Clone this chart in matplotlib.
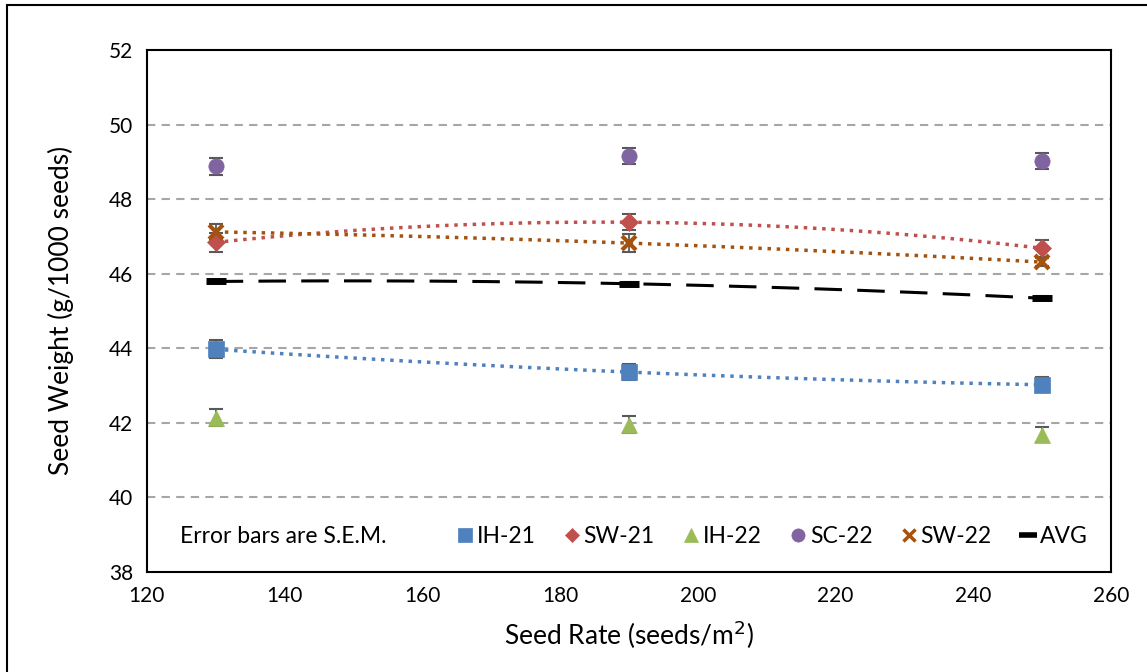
import numpy as np
import matplotlib
matplotlib.use("Agg")
import matplotlib.pyplot as plt
from matplotlib.lines import Line2D
from matplotlib.patches import Rectangle

plt.rcParams['font.family'] = ['Lato', 'DejaVu Sans']

rate = [130, 190, 250]
ih21 = [43.97, 43.36, 43.02]
sw21 = [46.84, 47.38, 46.68]
ih22 = [42.14, 41.95, 41.68]
sc22 = [48.88, 49.16, 49.02]
sw22 = [47.12, 46.82, 46.31]
avg = [45.79, 45.73, 45.34]

ih21_err = [0.24, 0.22, 0.2]
sw21_err = [0.25, 0.22, 0.22]
ih22_err = [0.22, 0.22, 0.2]
sc22_err = [0.22, 0.22, 0.22]
sw22_err = [0.22, 0.25, 0.1]
avg_err = [0.05, 0.05, 0.05]

labels = ["IH-21", "SW-21", "IH-22", "SC-22", "SW-22", "AVG"]
colors = ["#4F81BD", "#C0504D", "#9BBB59", "#8064A2", "#A5520F", "black"]
markers = ["s", "D", "^", "o", "x", "_"]
msizes = [11, 9, 11, 11, 10, 15]
series = [ih21, sw21, ih22, sc22, sw22, avg]
errs = [ih21_err, sw21_err, ih22_err, sc22_err, sw22_err, avg_err]
# which series get a 2nd order trendline, and its style
trend = {0: ':', 1: ':', 4: ':', 5: (0, (9, 5))}

fig = plt.figure(figsize=(11.47, 6.72), dpi=100)
ax = fig.add_axes([0.128, 0.149, 0.8406, 0.7766])

xs = np.linspace(130, 250, 200)
for i, (y, e) in enumerate(zip(series, errs)):
    if i in trend:
        coef = np.polyfit(rate, y, 2)
        ax.plot(xs, np.polyval(coef, xs), color=colors[i], lw=2.5 if i < 5 else 2.2,
                linestyle=trend[i], zorder=2)
    ax.errorbar(rate, y, yerr=e, fmt='none', ecolor='#595959', elinewidth=1.3,
                capsize=5, capthick=1.5, zorder=3)
    mew = 3 if markers[i] == 'x' else (5 if markers[i] == '_' else 0.5)
    ax.plot(rate, y, linestyle='none', marker=markers[i], markersize=msizes[i],
            color=colors[i], markeredgecolor=colors[i], markeredgewidth=mew, zorder=4)

ax.set_xlim(120, 260)
ax.set_ylim(38, 52)
ax.set_xticks(np.arange(120, 261, 20))
ax.set_yticks(np.arange(38, 53, 2))
for g in range(40, 51, 2):
    ax.axhline(g, color='#A6A6A6', lw=1.5, linestyle=(0, (4, 3)), zorder=1)
ax.tick_params(length=0, labelsize=15, pad=10)
for s in ax.spines.values():
    s.set_linewidth(1.5)
    s.set_color('black')

ax.set_xlabel("Seed Rate (seeds/m$^2$)", fontsize=19, labelpad=9)
ax.set_ylabel("Seed Weight (g/1000 seeds)", fontsize=19, labelpad=25)

ax.text(124.8, 38.95, "Error bars are S.E.M.", fontsize=16.5, va='center')
handles = [Line2D([], [], linestyle='none', marker=markers[i], markersize=msizes[i] - 1.5,
                  color=colors[i], markeredgewidth=2.5 if markers[i] == 'x' else (4 if markers[i] == '_' else 0.5))
           for i in range(6)]
ax.legend(handles, labels, ncol=6, loc='center right', bbox_to_anchor=(0.99, 0.068),
          frameon=False, fontsize=16.5, handletextpad=0.0, columnspacing=1.1,
          handlelength=1.0, borderaxespad=0.2)

fig.patches.append(Rectangle((7 / 1147, -0.1), 1.2, 1.1 - 5 / 672, transform=fig.transFigure,
                             fill=False, edgecolor='black', lw=1.5))

fig.savefig("out.png", dpi=100)
